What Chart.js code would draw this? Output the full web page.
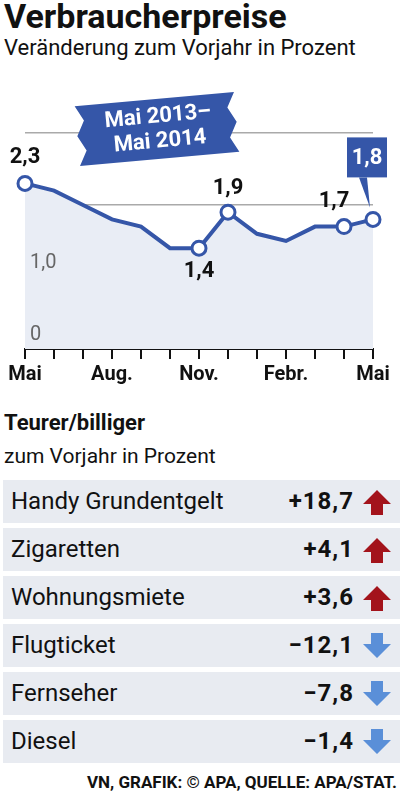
<!DOCTYPE html>
<html><head><meta charset="utf-8">
<script src="https://cdn.jsdelivr.net/npm/chart.js@4"></script>
<style>
body{margin:0;width:403px;height:800px;background:#fff;font-family:"Liberation Sans Narrow","Roboto",sans-serif;position:relative;overflow:hidden}
.t{position:absolute;left:4px;color:#111}
#c{position:absolute;left:0;top:80px}
.row{position:absolute;left:3px;width:397px;height:43px;background:#e8ebf1}
.row span{position:absolute;top:7px;font-size:24px;color:#111}
.lab{left:8px}
.val{right:46px;font-weight:bold;letter-spacing:1px}
.arr{position:absolute;right:8px;top:8px}
</style></head><body>
<div class="t" style="top:-4px;font-size:34px;font-weight:bold">Verbraucherpreise</div>
<div class="t" style="top:35px;font-size:22px">Veränderung zum Vorjahr in Prozent</div>
<div id="cw"><canvas id="c" width="403" height="320" style="width:403px;height:320px"></canvas></div>
<div class="t" style="top:410px;font-size:22px;font-weight:bold">Teurer/billiger</div>
<div class="t" style="top:444px;font-size:21px">zum Vorjahr in Prozent</div>
<div id="tbl"></div>
<div style="position:absolute;right:6px;top:772px;font-size:17px;font-weight:bold;color:#111">VN, GRAFIK: © APA, QUELLE: APA/STAT.</div>
<script>
const months=["Mai","Jun","Jul","Aug","Sep","Okt","Nov","Dez","Jan","Febr","Mär","Apr","Mai"];
const tickLabels=["Mai","","","Aug.","","","Nov.","","","Febr.","","","Mai"];
const values=[2.3,2.2,2.0,1.8,1.7,1.4,1.4,1.9,1.6,1.5,1.7,1.7,1.8];
const labelled=[0,6,7,11,12];
const yTickLabels=["0","1,0"];
const items=["Handy Grundentgelt","Zigaretten","Wohnungsmiete","Flugticket","Fernseher","Diesel"];
const changes=["+18,7","+4,1","+3,6","−12,1","−7,8","−1,4"];
const dirs=[1,1,1,-1,-1,-1];

const tbl=document.getElementById('tbl');
items.forEach((it,i)=>{
  const d=document.createElement('div');d.className='row';d.style.top=(480+i*48)+'px';
  const up=dirs[i]>0;
  d.innerHTML=`<span class="lab">${it}</span><span class="val">${changes[i]}</span>
  <svg class="arr" width="30" height="28" viewBox="0 0 30 28">${up?
  '<polygon points="15,2 29,16 21,16 21,27 9,27 9,16 1,16" fill="#a3131b"/>':
  '<polygon points="15,26 29,12 21,12 21,1 9,1 9,12 1,12" fill="#5a8fd8"/>'}</svg>`;
  tbl.appendChild(d);
});

const BLUE='#3556a8';
const deco={id:'deco',afterDatasetsDraw(ch){
  const c=ch.ctx,x=ch.scales.x,y=ch.scales.y;
  c.save();
  // y labels
  c.fillStyle='#666';c.font='20px "Liberation Sans Narrow",Roboto';c.textBaseline='bottom';c.textAlign='left';
  c.fillText(yTickLabels[0],x.left+5,y.getPixelForValue(0)-4);
  c.fillText(yTickLabels[1],x.left+5,y.getPixelForValue(1)-4);
  // data labels
  c.font='bold 22px "Liberation Sans Narrow",Roboto';c.fillStyle='#111';c.textAlign='center';
  const fmt=v=>v.toFixed(1).replace('.',',');
  const px=i=>x.getPixelForValue(i), py=i=>y.getPixelForValue(values[i]);
  c.textBaseline='alphabetic';
  c.fillText(fmt(values[0]),px(0),py(0)-20);
  c.fillText(fmt(values[7]),px(7),py(7)-18);
  c.fillText(fmt(values[11]),px(11)-10,py(11)-20);
  c.textBaseline='top';
  c.fillText(fmt(values[6]),px(6),py(6)+12);
  // 1,8 box
  const bx=px(12)-26,by=py(12)-82,bw=40,bh=40;
  c.fillStyle=BLUE;c.fillRect(bx,by,bw,bh);
  c.beginPath();c.moveTo(px(12)-6,by+bh);c.lineTo(px(12)-14,by+bh);c.lineTo(px(12)-3,py(12)-12);c.fill();
  c.fillStyle='#fff';c.textBaseline='middle';c.fillText(fmt(values[12]),bx+bw/2,by+bh/2+1);
  // banner
  c.translate(157,49);c.rotate(-0.09);
  c.fillStyle=BLUE;c.beginPath();
  c.moveTo(-80,-30);c.lineTo(80,-30);c.lineTo(72,-15);c.lineTo(80,0);c.lineTo(72,15);c.lineTo(80,30);
  c.lineTo(-80,30);c.lineTo(-72,15);c.lineTo(-80,0);c.lineTo(-72,-15);c.closePath();c.fill();
  c.fillStyle='#fff';c.font='bold 22px "Liberation Sans Narrow",Roboto';
  c.fillText('Mai 2013–',2,-12);c.fillText('Mai 2014',2,13);
  c.restore();
}};
new Chart(document.getElementById('c'),{
  type:'line',
  data:{labels:months,datasets:[{data:values,borderColor:BLUE,borderWidth:4,fill:'origin',
    backgroundColor:'#e9edf5',tension:0,clip:false,
    pointRadius:values.map((v,i)=>labelled.includes(i)?7:0),
    pointBackgroundColor:'#fff',pointBorderColor:BLUE,pointBorderWidth:3}]},
  options:{responsive:false,animation:false,
    layout:{padding:{top:53,left:25,right:30,bottom:0}},
    plugins:{legend:{display:false},tooltip:{enabled:false}},
    scales:{
      x:{offset:false,afterFit(s){s.height=51;},
        grid:{drawOnChartArea:false,drawTicks:true,tickLength:10,color:'#111',lineWidth:2},
        border:{color:'#111',width:2},
        ticks:{autoSkip:false,maxRotation:0,padding:4,color:'#111',font:{family:'"Liberation Sans Narrow",Roboto',size:20,weight:'bold'},
          callback:(v,i)=>tickLabels[i]}},
      y:{min:0,max:3,afterFit(s){s.width=0;},
        ticks:{display:false,stepSize:1},border:{display:false},
        grid:{color:c=>c.tick.value===0?'rgba(0,0,0,0)':'#aaa',lineWidth:1.5,drawTicks:false}}
    }},
  plugins:[deco]
});
</script></body></html>
